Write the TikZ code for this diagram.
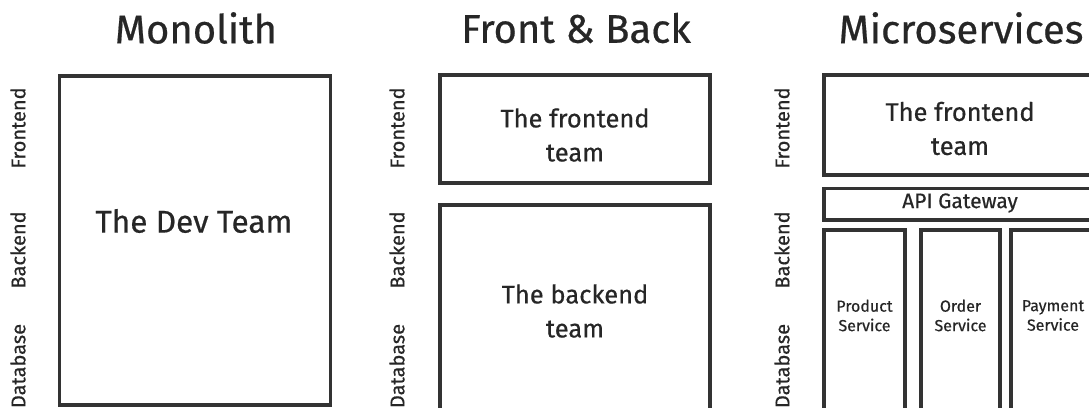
\documentclass[tikz,border=0pt]{standalone}
\usepackage{fontspec}
\setmainfont{Fira Sans}[FakeBold=0.5]
\definecolor{ink}{HTML}{333333}
\definecolor{textink}{HTML}{262626}
\begin{document}
\begin{tikzpicture}[x=1pt,y=-1pt,
  every node/.style={text=textink, inner sep=0pt},
  box/.style={draw=ink, line width=3.6pt, anchor=north west, inner sep=0pt, outer sep=0pt},
  title/.style={font=\fontsize{40}{44}\selectfont},
  big/.style={font=\fontsize{31.5}{36}\selectfont},
  team/.style={font=\fontsize{25.5}{34}\selectfont, align=center},
  gate/.style={font=\fontsize{21}{24}\selectfont},
  svc/.style={font=\fontsize{16}{19.5}\selectfont, align=center},
  side/.style={font=\fontsize{20}{22}\selectfont, rotate=90}]
\useasboundingbox (0,0) rectangle (1089,407);
\clip (0,0) rectangle (1089,407);

% column titles
\node[title] (tmono)  at (196,28) {Monolith};
\node[title] (tfb)    at (576,28) {Front \& Back};
\node[title] (tmicro) at (961,28) {Microservices};

% layer labels beside each column
\foreach \c/\x in {mono/18, fb/397, micro/782}{
  \node[side] (\c-fe) at (\x,128) {Frontend};
  \node[side] (\c-be) at (\x,250) {Backend};
  \node[side] (\c-db) at (\x,366) {Database};
}

% Monolith
\node[box, minimum width=271pt, minimum height=329pt] (dev) at (59.5,76) {};
\node[big] (devtxt) at (194,221) {The Dev Team};

% Front & Back
\node[box, minimum width=270pt, minimum height=108pt] (fbfront) at (440,75) {};
\node[team] (fbfronttxt) at (575,135) {The frontend\\team};
\node[box, minimum width=270pt, minimum height=260pt] (fbback) at (440,205) {};
\node[team] (fbbacktxt) at (575,311) {The backend\\team};

% Microservices
\node[box, minimum width=300pt, minimum height=100pt] (msfront) at (824,75) {};
\node[team] (msfronttxt) at (960,128.5) {The frontend\\team};
\node[box, minimum width=300pt, minimum height=31.5pt] (gw) at (824,188.5) {};
\node[gate] (gwtxt) at (960,203) {API Gateway};
\node[box, minimum width=81pt, minimum height=240pt] (prod) at (824,230) {};
\node[svc] (prodtxt) at (864.5,315.5) {Product\\Service};
\node[box, minimum width=79pt, minimum height=240pt] (order) at (921,230) {};
\node[svc] (ordertxt) at (960.5,315.5) {Order\\Service};
\node[box, minimum width=120pt, minimum height=240pt] (pay) at (1011,230) {};
\node[svc] (paytxt) at (1053,315.5) {Payment\\Service};
\end{tikzpicture}
\end{document}
